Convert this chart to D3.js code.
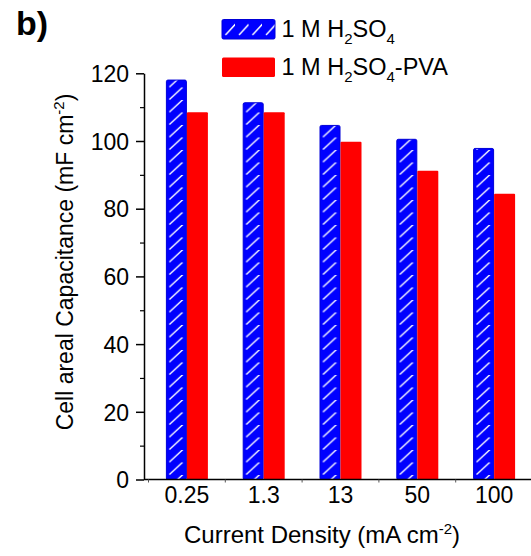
<!DOCTYPE html>
<html>
<head>
<meta charset="utf-8">
<script src="https://cdn.jsdelivr.net/npm/d3@7"></script>
<style>
  body { margin: 0; background: #fff; }
  text { font-family: "Liberation Sans", Arial, sans-serif; fill: #000; }
</style>
</head>
<body>
<svg id="chart" width="531" height="556"></svg>
<script>
// data
const densities = ["0.25", "1.3", "13", "50", "100"];
const seriesKeys = ["h2so4", "pva"];
const h2so4Values = [118.0, 111.3, 104.6, 100.5, 97.8];
const pvaValues = [108.5, 108.5, 99.8, 91.2, 84.4];
const yMajorTicks = [0, 20, 40, 60, 80, 100, 120];
const yMinorTicks = [10, 30, 50, 70, 90, 110];

const width = 531, height = 556;
const axisX = 144; // where the y axis sits
const barW = 21;

const svg = d3.select("#chart");

// hatch pattern for the blue bars (white "/" strokes on blue)
const defs = svg.append("defs");
const hatch = defs.append("pattern")
  .attr("id", "hatch")
  .attr("patternUnits", "userSpaceOnUse")
  .attr("width", barW)
  .attr("height", 12.5);
hatch.append("rect").attr("width", barW).attr("height", 12.5).attr("fill", "#0000ff");
hatch.append("path")
  .attr("d", "M3.5,12 L17,-0.5")
  .attr("stroke", "#fff").attr("stroke-width", 1.4);

const hatchLegend = defs.append("pattern")
  .attr("id", "hatchLegend")
  .attr("patternUnits", "userSpaceOnUse")
  .attr("width", 13.5)
  .attr("height", 20);
hatchLegend.append("rect").attr("width", 13.5).attr("height", 20).attr("fill", "#0000ff");
hatchLegend.append("path")
  .attr("d", "M4,16 L14.5,4.5")
  .attr("stroke", "#fff").attr("stroke-width", 1.4);

// scales
const y = d3.scaleLinear().domain([0, 120]).range([479.5, 73.3]);
const x0 = d3.scaleBand().domain(densities).range([148.5, 532.5]).padding(0);
const x1 = d3.scaleBand().domain(seriesKeys)
  .range([x0.bandwidth() / 2 - barW, x0.bandwidth() / 2 + barW]).padding(0);

const rows = densities.map((d, i) => ({ d, h2so4: h2so4Values[i], pva: pvaValues[i] }));

// bars
const groups = svg.selectAll(".grp").data(rows).enter()
  .append("g").attr("class", "grp");

groups.each(function (row) {
  const g = d3.select(this);
  seriesKeys.forEach(k => {
    const bx = x0(row.d) + x1(k);
    const bar = g.append("g").attr("transform", `translate(${bx},0)`);
    if (k === "h2so4") {
      bar.append("rect")
        .attr("x", 0.5).attr("y", y(row[k]))
        .attr("width", x1.bandwidth() - 1)
        .attr("height", y(0) - y(row[k]))
        .attr("rx", 1.5)
        .attr("fill", "url(#hatch)")
        .attr("stroke", "#0000d8").attr("stroke-width", 1);
    } else {
      bar.append("rect")
        .attr("x", 0).attr("y", y(row[k]))
        .attr("width", x1.bandwidth())
        .attr("height", y(0) - y(row[k]))
        .attr("rx", 1)
        .attr("fill", "#ff0000");
    }
  });
});

// y axis
const yAxis = svg.append("g")
  .attr("transform", `translate(${axisX},0)`)
  .call(d3.axisLeft(y).tickValues(yMajorTicks).tickSize(8).tickSizeOuter(0).tickPadding(7));
yAxis.selectAll("text").style("font-size", "23px").attr("dy", "0.36em");
yAxis.select(".domain").attr("stroke-width", 1.5);
yAxis.selectAll(".tick line").attr("stroke-width", 1.5);

const yMinor = svg.append("g")
  .attr("transform", `translate(${axisX},0)`)
  .call(d3.axisLeft(y).tickValues(yMinorTicks).tickSize(4).tickFormat(""));
yMinor.select(".domain").remove();
yMinor.selectAll(".tick line").attr("stroke-width", 1.2);

// x axis
const xAxis = svg.append("g")
  .attr("transform", `translate(0,${y(0)})`)
  .call(d3.axisBottom(x0).tickSize(0).tickPadding(7));
xAxis.select(".domain").remove();
xAxis.selectAll("text").style("font-size", "23px");

svg.append("line")
  .attr("x1", axisX).attr("x2", width)
  .attr("y1", y(0)).attr("y2", y(0))
  .attr("stroke", "#000").attr("stroke-width", 1.5);

// little ticks on the group boundaries
svg.selectAll(".xb").data(densities).enter()
  .append("line")
  .attr("x1", d => x0(d)).attr("x2", d => x0(d))
  .attr("y1", y(0)).attr("y2", y(0) + 3)
  .attr("stroke", "#555").attr("stroke-width", 1);

// axis titles
const xt = svg.append("text")
  .attr("x", 322).attr("y", 543)
  .attr("text-anchor", "middle")
  .style("font-size", "24px");
xt.append("tspan").text("Current Density (mA cm");
xt.append("tspan").attr("dy", -9).style("font-size", "15px").text("-2");
xt.append("tspan").attr("dy", 9).text(")");

const yt = svg.append("text")
  .attr("transform", "translate(73,262) rotate(-90)")
  .attr("text-anchor", "middle")
  .style("font-size", "23px");
yt.append("tspan").text("Cell areal Capacitance (mF cm");
yt.append("tspan").attr("dy", -9).style("font-size", "15px").text("-2");
yt.append("tspan").attr("dy", 9).text(")");

// panel label
svg.append("text")
  .attr("x", 16).attr("y", 35)
  .style("font-size", "34px").style("font-weight", "bold")
  .text("b)");

// legend
const legend = [
  { key: "h2so4", suffix: "" },
  { key: "pva", suffix: "-PVA" }
];
const legY = d3.scaleBand().domain(seriesKeys).range([19, 95]);

legend.forEach(item => {
  const ly = legY(item.key);
  const lg = svg.append("g").attr("transform", `translate(221.5,${ly})`);
  lg.append("rect")
    .attr("x", 0.5).attr("y", 0.5)
    .attr("width", 53).attr("height", 19.5)
    .attr("rx", 1.5)
    .attr("fill", item.key === "h2so4" ? "url(#hatchLegend)" : "#ff0000")
    .attr("stroke", item.key === "h2so4" ? "#0000d8" : "none");
  const t = lg.append("text")
    .attr("x", 60).attr("y", 17.5)
    .style("font-size", "23.5px");
  t.append("tspan").text("1 M H");
  t.append("tspan").attr("dy", 7).style("font-size", "15px").text("2");
  t.append("tspan").attr("dy", -7).text("SO");
  t.append("tspan").attr("dy", 7).style("font-size", "15px").text("4");
  t.append("tspan").attr("dy", -7).text(item.suffix);
});
</script>
</body>
</html>
